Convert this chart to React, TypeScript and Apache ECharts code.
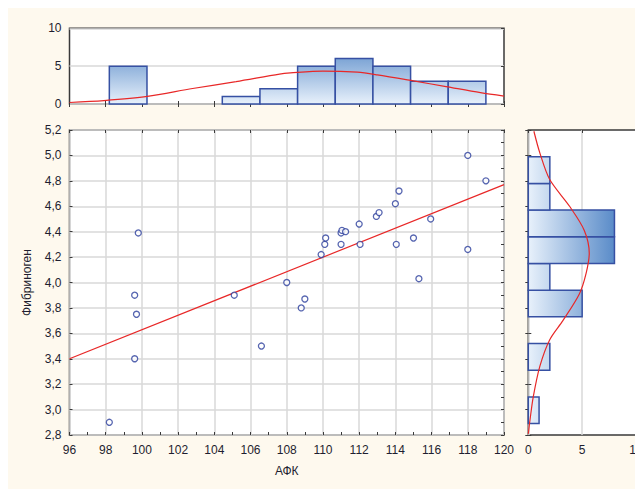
import React, { useEffect, useRef } from "react";
import * as echarts from "echarts";

// Scatter data: АФК vs Фибриноген
const afk = [98.2, 99.6, 99.6, 99.7, 99.8, 105.1, 106.6, 108.0, 108.8, 109.0, 109.9, 110.1, 110.15, 111.0, 111.0, 111.05, 111.25, 112.0, 112.05, 112.95, 113.1, 114.0, 114.05, 114.2, 115.0, 115.3, 115.95, 118.0, 118.0, 119.0];
const fib = [2.9, 3.4, 3.9, 3.75, 4.39, 3.9, 3.5, 4.0, 3.8, 3.87, 4.22, 4.3, 4.35, 4.3, 4.39, 4.41, 4.4, 4.46, 4.3, 4.52, 4.55, 4.62, 4.3, 4.72, 4.35, 4.03, 4.5, 5.0, 4.26, 4.8];

// Regression line end points
const regX = [96, 120];
const regY = [3.4, 4.77];

// Top histogram (АФК)
const topEdges = [98.2, 100.28, 102.36, 104.44, 106.52, 108.6, 110.68, 112.76, 114.84, 116.92, 119.0];
const topCounts = [5, 0, 0, 1, 2, 5, 6, 5, 3, 3];
const topCurveX = [96, 97.9, 100.3, 102.8, 105.2, 107.6, 108.2, 110.0, 111.9, 113.0, 115.0, 116.8, 118.7, 120];
const topCurveY = [0.2, 0.45, 1.0, 2.05, 2.95, 3.95, 4.1, 4.35, 4.2, 3.85, 3.05, 2.3, 1.5, 1.05];

// Right histogram (Фибриноген)
const rightEdges = [2.89, 3.1, 3.31, 3.52, 3.73, 3.94, 4.15, 4.36, 4.57, 4.78, 4.99];
const rightCounts = [1, 0, 2, 0, 5, 2, 8, 8, 2, 2];
const rightCurveVal = [0.52, 1.07, 1.99, 3.83, 5.2, 5.66, 5.36, 4.74, 3.21, 1.99, 1.07, 0.46, 0.16, 0.0];
const rightCurveY = [5.19, 5.02, 4.81, 4.6, 4.41, 4.23, 4.07, 3.91, 3.7, 3.55, 3.34, 3.1, 2.92, 2.81];

// Tick labels
const xLabels = ["96", "98", "100", "102", "104", "106", "108", "110", "112", "114", "116", "118", "120"];
const histTicks = [0, 5, 10];
const histLabels = ["0", "5", "10"];

const FONT = "'Liberation Sans', Arial, sans-serif";
const TXT = "#1e1e30";
const FRAME = "#3a3a3a";
const GRIDC = "#d9d9d9";

export default function App() {
  const ref = useRef<HTMLDivElement>(null);
  useEffect(() => {
    if (!ref.current) return;
    const chart = echarts.init(ref.current, null, { renderer: "svg" });

    const topData = topCounts
      .map((c, i) => [topEdges[i], topEdges[i + 1], c])
      .filter((d) => d[2] > 0);
    const rightData = rightCounts
      .map((c, i) => [rightEdges[i], rightEdges[i + 1], c])
      .filter((d) => d[2] > 0);

    const tickIn = (len = 4) => ({ show: true, inside: true, length: len, lineStyle: { color: FRAME, width: 1 } });
    const label = { fontFamily: FONT, fontSize: 12, color: TXT };
    const noLine = { show: false };

    const gridBase = { show: true, backgroundColor: "#fff", borderColor: FRAME, borderWidth: 1.5, containLabel: false, outerBoundsMode: "none" };

    const option: any = {
      animation: false,
      backgroundColor: "transparent",
      grid: [
        { ...gridBase, left: 61.5, top: 20.3, width: 434.5, height: 75.7 },
        { ...gridBase, left: 61.5, top: 122, width: 434.5, height: 305 },
        { ...gridBase, left: 520.3, top: 122, width: 107.7, height: 305 },
      ],
      xAxis: [
        { gridIndex: 0, type: "value", min: 96, max: 120, interval: 2, position: "bottom", axisLine: noLine, axisTick: tickIn(3), axisLabel: { show: false }, splitLine: { show: false } },
        { gridIndex: 0, type: "value", min: 96, max: 120, interval: 2, position: "top", axisLine: noLine, axisTick: tickIn(3), axisLabel: { show: false }, splitLine: { show: false } },
        {
          gridIndex: 1, type: "value", min: 96, max: 120, interval: 2, position: "bottom",
          axisLine: noLine, axisTick: tickIn(3),
          minorTick: { show: true, splitNumber: 2, length: 3, lineStyle: { color: FRAME } },
          axisLabel: { ...label, margin: 9, showMinLabel: true, showMaxLabel: true, formatter: (v: number) => xLabels[Math.round((v - 96) / 2)] ?? "" },
          splitLine: { show: true, lineStyle: { color: GRIDC, width: 1.5 } },
          name: "АФК", nameLocation: "middle", nameGap: 30, nameTextStyle: { fontFamily: FONT, fontSize: 12, color: TXT },
        },
        { gridIndex: 1, type: "value", min: 96, max: 120, interval: 2, position: "top", axisLine: noLine, axisTick: tickIn(3), axisLabel: { show: false }, splitLine: { show: false } },
        {
          gridIndex: 2, type: "value", min: 0, max: 10, interval: 5, position: "bottom", axisLine: noLine, axisTick: { show: false },
          axisLabel: { show: false },
          splitLine: { show: true, lineStyle: { color: GRIDC, width: 1.5 } },
        },
        { gridIndex: 2, type: "value", min: 0, max: 10, interval: 5, position: "top", axisLine: noLine, axisTick: tickIn(3), axisLabel: { show: false }, splitLine: { show: false } },
      ],
      yAxis: [
        {
          gridIndex: 0, type: "value", min: 0, max: 10, interval: 5, position: "left", axisLine: noLine, axisTick: { show: false },
          axisLabel: { ...label, margin: 8 }, splitLine: { show: true, lineStyle: { color: GRIDC, width: 1.5 } },
        },
        { gridIndex: 0, type: "value", min: 0, max: 10, interval: 5, position: "right", axisLine: noLine, axisTick: tickIn(3), axisLabel: { show: false }, splitLine: { show: false } },
        {
          gridIndex: 1, type: "value", min: 2.8, max: 5.2, interval: 0.2, position: "left", axisLine: noLine, axisTick: tickIn(3),
          axisLabel: { ...label, margin: 8, formatter: (v: number) => v.toFixed(1).replace(".", ",") },
          splitLine: { show: true, lineStyle: { color: GRIDC, width: 1.5 } },
          name: "Фибриноген", nameLocation: "middle", nameGap: 37, nameRotate: 90,
          nameTextStyle: { fontFamily: FONT, fontSize: 12, color: TXT },
        },
        {
          gridIndex: 1, type: "value", min: 2.8, max: 5.2, interval: 0.2, position: "right", axisLine: noLine, axisTick: tickIn(3),
          minorTick: { show: true, splitNumber: 2, length: 3, lineStyle: { color: FRAME } },
          axisLabel: { show: false }, splitLine: { show: false },
        },
        { gridIndex: 2, type: "value", min: 2.8, max: 5.2, interval: 0.2, position: "left", axisLine: noLine, axisTick: tickIn(3), axisLabel: { show: false }, splitLine: { show: false } },
        { gridIndex: 2, type: "value", min: 2.8, max: 5.2, interval: 0.2, position: "right", axisLine: noLine, axisTick: tickIn(3), axisLabel: { show: false }, splitLine: { show: false } },
      ],
      series: [
        {
          type: "custom", xAxisIndex: 0, yAxisIndex: 0, data: topData, z: 3,
          renderItem: (params: any, api: any) => {
            const s = api.value(0), e = api.value(1), c = api.value(2);
            const p0 = api.coord([s, c]);
            const p1 = api.coord([e, 0]);
            const yb = api.coord([96, 0])[1];
            const yt = api.coord([96, 10])[1];
            const grad = new echarts.graphic.LinearGradient(0, yb, 0, yt, [
              { offset: 0, color: "#e8f1fb" },
              { offset: 1, color: "#3672bc" },
            ], true);
            return {
              type: "rect",
              shape: { x: p0[0], y: p0[1], width: p1[0] - p0[0], height: p1[1] - p0[1] },
              style: { fill: grad, stroke: "#3650a3", lineWidth: 1.5 },
            };
          },
        },
        {
          type: "line", xAxisIndex: 0, yAxisIndex: 0, z: 5, smooth: 0.3, symbol: "none",
          data: topCurveX.map((x, i) => [x, topCurveY[i]]),
          lineStyle: { color: "#e82828", width: 1.2 },
        },
        {
          type: "line", xAxisIndex: 2, yAxisIndex: 2, z: 4, symbol: "none",
          data: regX.map((x, i) => [x, regY[i]]),
          lineStyle: { color: "#e82828", width: 1.2 },
        },
        {
          type: "scatter", xAxisIndex: 2, yAxisIndex: 2, z: 5, symbol: "circle", symbolSize: 6,
          data: afk.map((x, i) => [x, fib[i]]),
          itemStyle: { color: "#ffffff", borderColor: "#2c3f9c", borderWidth: 1.3 },
        },
        {
          type: "custom", xAxisIndex: 4, yAxisIndex: 4, data: rightData, z: 3,
          renderItem: (params: any, api: any) => {
            const s = api.value(0), e = api.value(1), c = api.value(2);
            const p0 = api.coord([0, e]);
            const p1 = api.coord([c, s]);
            const xl = api.coord([0, 2.8])[0];
            const xr = api.coord([10, 2.8])[0];
            const grad = new echarts.graphic.LinearGradient(xl, 0, xr, 0, [
              { offset: 0, color: "#e8f1fb" },
              { offset: 1, color: "#3672bc" },
            ], true);
            return {
              type: "rect",
              shape: { x: p0[0], y: p0[1], width: p1[0] - p0[0], height: p1[1] - p0[1] },
              style: { fill: grad, stroke: "#3650a3", lineWidth: 1.5 },
            };
          },
        },
        {
          type: "line", xAxisIndex: 4, yAxisIndex: 4, z: 5, smooth: 0.3, symbol: "none",
          data: rightCurveVal.map((v, i) => [v, rightCurveY[i]]),
          lineStyle: { color: "#e82828", width: 1.2 },
        },
      ],
    };
    chart.setOption(option);

    // Tick labels of the right histogram's count axis, placed through the axis scale
    const baseY = chart.convertToPixel({ yAxisIndex: 4 } as any, 2.8) as number;
    const labelEls = histTicks.map((t, i) => ({
      type: "text",
      x: chart.convertToPixel({ xAxisIndex: 4 } as any, t) as number,
      y: baseY + 9,
      style: { text: histLabels[i], fontFamily: FONT, fontSize: 12, fill: TXT, align: "center", verticalAlign: "top" },
      z: 10,
    }));
    chart.setOption({ graphic: labelEls });

    return () => chart.dispose();
  }, []);

  return <div ref={ref} style={{ width: 635, height: 481, background: "#fef9ee" }} />;
}
